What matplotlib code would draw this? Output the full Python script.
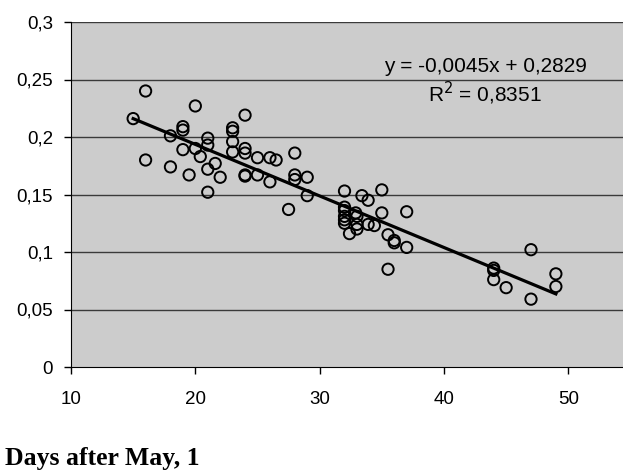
import numpy as np
import matplotlib
matplotlib.use("Agg")
import matplotlib.pyplot as plt

days = [15, 16, 16, 20, 18, 18, 19, 19, 19, 19.5, 20, 20.4, 21, 21, 21, 21,
        21.6, 22, 23, 23, 23, 23, 24, 24, 24, 24, 24, 25, 25, 26, 26, 26.5,
        27.5, 28, 28, 28, 29, 29, 32, 32, 32, 32, 32, 32, 32.4, 32.9, 33, 33,
        33, 33.4, 33.9, 33.9, 34.4, 35, 35, 35.5, 35.5, 36, 36, 37, 37,
        44, 44, 44, 45, 47, 47, 49, 49]
values = [0.216, 0.240, 0.180, 0.227, 0.201, 0.174, 0.209, 0.206, 0.189, 0.167,
          0.190, 0.183, 0.199, 0.193, 0.172, 0.152, 0.177, 0.165, 0.208, 0.205,
          0.196, 0.187, 0.219, 0.190, 0.186, 0.167, 0.166, 0.182, 0.167, 0.182,
          0.161, 0.180, 0.137, 0.186, 0.167, 0.163, 0.165, 0.149, 0.153, 0.139,
          0.136, 0.131, 0.128, 0.125, 0.116, 0.134, 0.131, 0.124, 0.120, 0.149,
          0.145, 0.124, 0.123, 0.154, 0.134, 0.115, 0.085, 0.110, 0.108, 0.135,
          0.104, 0.086, 0.084, 0.076, 0.069, 0.102, 0.059, 0.081, 0.070]

eq_text = "y = -0,0045x + 0,2829"
r2_text = "R$^2$ = 0,8351"
y_ticks = [0, 0.05, 0.1, 0.15, 0.2, 0.25, 0.3]
y_labels = ["0", "0,05", "0,1", "0,15", "0,2", "0,25", "0,3"]
x_ticks = [10, 20, 30, 40, 50]

plt.rcParams["font.family"] = ["Liberation Sans", "DejaVu Sans"]

fig = plt.figure(figsize=(6.23, 4.75), dpi=100)
ax = fig.add_axes([71 / 623, 1 - 367 / 475, 1 - 71 / 623, 345 / 475])
ax.set_facecolor("#cccccc")

ax.set_xlim(10, 54.4)
ax.set_ylim(0, 0.3)

for yv in y_ticks[1:]:
    ax.axhline(yv, color="#3a3a3a", lw=1, zorder=1)

ax.scatter(days, values, s=66, facecolors="none", edgecolors="black",
           linewidths=1.4, zorder=3)

# linear trend
x_arr = np.array(days)
slope, intercept = np.polyfit(x_arr, np.array(values), 1)
xs = np.array([x_arr.min(), x_arr.max()])
ax.plot(xs, slope * xs + intercept, color="black", lw=2.3, zorder=4)

ax.text(43.3, 0.261, eq_text, ha="center", va="center", fontsize=15)
ax.text(43.3, 0.2375, r2_text, ha="center", va="center", fontsize=15)

ax.set_yticks(y_ticks)
ax.set_yticklabels(y_labels, fontsize=13.5)
ax.set_xticks(x_ticks)
ax.set_xticklabels([str(t) for t in x_ticks], fontsize=13.5)
ax.tick_params(axis="both", direction="out", length=5, width=1, colors="black")
ax.tick_params(axis="x", pad=12)
ax.tick_params(axis="y", pad=8)

ax.spines["top"].set_visible(False)
ax.spines["right"].set_visible(False)
ax.spines["left"].set_color("black")
ax.spines["bottom"].set_color("black")

fig.text(5 / 623, 1 - 458 / 475, "Days after May, 1", fontsize=18.5,
         fontweight="bold", family=["Liberation Serif"], va="center", ha="left")

fig.savefig("out.png", dpi=100)
